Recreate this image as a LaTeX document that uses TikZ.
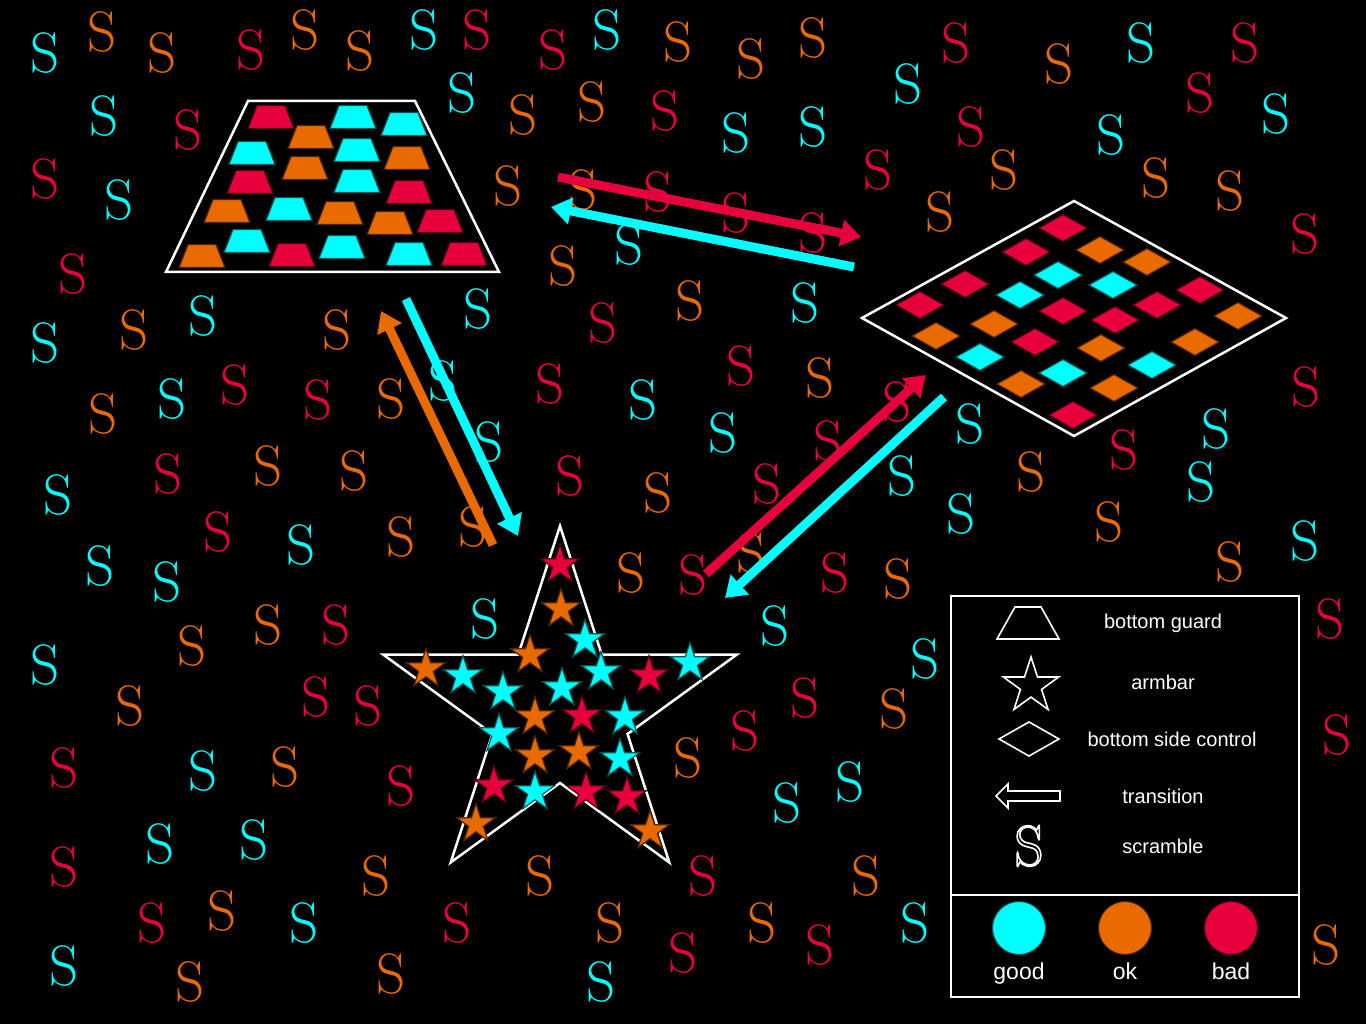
\documentclass[tikz,border=0pt]{standalone}
\usepackage{fontspec}
\newfontfamily\lsans{Liberation Sans}
\usetikzlibrary{arrows.meta}
\definecolor{cy}{RGB}{0,255,255}
\definecolor{og}{RGB}{232,106,0}
\definecolor{rd}{RGB}{232,0,60}
\begin{document}
\begin{tikzpicture}[x=1pt,y=-1pt,
  sS/.style={font=\fontsize{57}{60}\selectfont, inner sep=0pt},
  lg/.style={font=\lsans\fontsize{20}{24}\selectfont, text=white, inner sep=0pt, anchor=base},
  lc/.style={font=\lsans\fontsize{23}{27}\selectfont, text=white, inner sep=0pt, anchor=base},
  bigshape/.style={draw=white, line width=2.5pt, fill=black, line join=miter},
  legshape/.style={draw=white, line width=1.6pt},
  arr/.style={line width=9pt, -{Triangle[length=20pt,width=26pt]}},
  trapz/.pic={\path[pic actions] (-14,-11.5) -- (14,-11.5) -- (23,11.5) -- (-23,11.5) -- cycle;},
  dia/.pic={\path[pic actions] (-24,0) -- (0,-13.5) -- (24,0) -- (0,13.5) -- cycle;},
  stary/.pic={\path[pic actions] (270:20.5)--(306:7.8)--(342:20.5)--(18:7.8)--(54:20.5)--(90:7.8)--(126:20.5)--(162:7.8)--(198:20.5)--(234:7.8)--cycle;}
]
\fill[black] (0,0) rectangle (1366,1024);
\useasboundingbox (0,0) rectangle (1366,1024);

% scattered scramble letters
\foreach \x/\y/\c [count=\i] in {
45/53/cy,102/32/og,162/53/og,251/50/rd,305/30/og,104/116/cy,188/130/rd,45/179/rd,119/200/cy,73/274/rd,
45/343/cy,134/330/og,203/316/cy,337/330/og,360/51/og,424/30/cy,477/30/rd,553/50/rd,607/30/cy,678/42/og,
462/93/cy,523/115/og,592/102/og,665/111/rd,508/186/og,583/190/og,658/192/rd,629/245/cy,563/266/og,478/309/cy,
603/323/rd,690/301/og,751/59/og,813/38/og,956/43/rd,908/84/cy,736/133/cy,813/127/cy,971/127/rd,878/170/rd,
1004/170/og,940/212/og,736/213/rd,813/233/rd,805/303/cy,1059/64/og,1141/43/cy,1245/43/rd,1200/93/rd,1276/114/cy,
1111/135/cy,1156/178/og,1230/191/og,1305/234/rd,172/399/cy,235/385/rd,318/400/rd,103/414/og,168/474/rd,268/466/og,
58/495/cy,218/532/rd,301/545/cy,100/566/cy,167/582/cy,268/625/og,336/625/rd,192/646/og,45/665/cy,316/697/rd,
391/399/og,443/381/cy,550/384/rd,643/400/cy,489/442/cy,354/471/og,570/476/rd,658/493/og,401/537/og,473/527/og,
631/573/og,693/575/rd,485/619/cy,741/366/rd,820/378/og,897/402/rd,723/433/cy,828/441/rd,970/424/cy,902/476/cy,
767/484/rd,961/514/cy,751/553/og,835/573/rd,898/579/og,775/626/cy,925/659/cy,1031/472/og,1306/387/rd,1216/429/cy,
1124/450/rd,1201/482/cy,1109/522/og,1230/562/og,1305/541/cy,1330/619/rd,130/706/og,64/768/rd,203/771/cy,285/767/og,
160/844/cy,254/840/cy,64/867/rd,152/923/rd,222/911/og,304/923/cy,64/966/cy,190/982/og,368/706/rd,401/786/rd,
376/876/og,540/876/og,457/923/rd,610/923/og,391/974/og,601/982/cy,688/758/og,683/953/rd,805/698/rd,894/709/og,
745/731/rd,850/782/cy,787/803/cy,703/876/rd,866/876/og,762/923/og,820/945/rd,915/923/cy,1337/735/rd,1326/945/og}
  \node[sS, text=\c] (s\i) at (\x,\y) {S};

% bottom guard
\draw[bigshape] (248,101) -- (415,101) -- (499,272) -- (166,272) -- cycle;
\foreach \x/\y/\c in {271/117/rd,311/137/og,353/117/cy,404/124/cy,252/153/cy,305/168/og,357/150/cy,407/158/og,
250/182/rd,357/181/cy,409/192/rd,227/211/og,289/209/cy,340/213/og,390/223/og,440/221/rd,
247/241/cy,342/247/cy,409/254/cy,202/256/og,292/255/rd,464/254/rd}
  \pic[fill=\c, draw=\c!35!black, line width=1.2pt] at (\x,\y) {trapz};

% bottom side control
\draw[bigshape] (862,318) -- (1074,201) -- (1286,318) -- (1074,436) -- cycle;
\foreach \x/\y/\c in {1063/228/rd,1026/252/rd,1100/250/og,1147/262/og,965/284/rd,1058/275/cy,1113/285/cy,1200/290/rd,
920/305/rd,1020/295/cy,1063/311/rd,1115/320/rd,1157/305/rd,1238/316/og,936/336/og,994/324/og,1035/342/rd,1101/348/og,
1195/342/og,980/357/cy,1063/373/cy,1152/365/cy,1021/384/og,1114/388/og,1073/415/rd}
  \pic[fill=\c, draw=\c!35!black, line width=1.2pt] at (\x,\y) {dia};

% armbar
\draw[bigshape, shift={(560,712)}] (270:186)--(306:71)--(342:186)--(18:71)--(54:186)--(90:71)--(126:186)--(162:71)--(198:186)--(234:71)--cycle;
\foreach \x/\y/\c in {560/565/rd,561/609/og,585/640/cy,530/655/og,690/663/cy,426/669/og,463/676/cy,503/692/cy,562/688/cy,
601/672/cy,649/676/rd,535/717/og,582/716/rd,625/717/cy,499/734/cy,535/756/og,579/752/og,620/759/cy,494/786/rd,
535/792/cy,586/792/rd,627/797/rd,476/824/og,650/831/og}
  \pic[fill=\c, draw=\c!35!black, line width=1.2pt] at (\x,\y) {stary};

% transitions
\coordinate (a1s) at (558,177); \coordinate (a1e) at (861,237);
\coordinate (a2s) at (854,267); \coordinate (a2e) at (551,207);
\coordinate (a3s) at (493,545); \coordinate (a3e) at (381,311);
\coordinate (a4s) at (406,299); \coordinate (a4e) at (518,536);
\coordinate (a5s) at (706,574); \coordinate (a5e) at (926,375);
\coordinate (a6s) at (944,397); \coordinate (a6e) at (725,598);
\draw[arr, rd] (a1s) -- (a1e);
\draw[arr, cy] (a2s) -- (a2e);
\draw[arr, og] (a3s) -- (a3e);
\draw[arr, cy] (a4s) -- (a4e);
\draw[arr, rd] (a5s) -- (a5e);
\draw[arr, cy] (a6s) -- (a6e);

% legend
\draw[white, line width=2pt, fill=black] (951,596) rectangle (1299,997);
\draw[white, line width=2pt] (951,895) -- (1299,895);
\draw[legshape] (1015,607) -- (1041,607) -- (1059,639) -- (997,639) -- cycle;
\node[lg] (t1) at (1163,628) {bottom guard};
\draw[legshape, shift={(1031,686)}] (270:29)--(306:11.1)--(342:29)--(18:11.1)--(54:29)--(90:11.1)--(126:29)--(162:11.1)--(198:29)--(234:11.1)--cycle;
\node[lg] (t2) at (1163,689) {armbar};
\draw[legshape] (999,739) -- (1029,722) -- (1059,739) -- (1029,756) -- cycle;
\node[lg] (t3) at (1172,746) {bottom side control};
\draw[legshape] (996,796) -- (1008,784) -- (1008,791) -- (1060,791) -- (1060,801) -- (1008,801) -- (1008,808) -- cycle;
\node[lg] (t4) at (1163,803) {transition};
\node[sS, text=white] (legS) at (1029,846) {\special{pdf:literal direct q 1 Tr 1.6 w 1 1 1 RG}S\special{pdf:literal direct Q}};
\node[lg] (t5) at (1163,853) {scramble};

\node[circle, fill=cy, draw=cy!35!black, line width=1pt, minimum size=53pt, inner sep=0pt] (cgood) at (1019,928) {};
\node[circle, fill=og, draw=og!35!black, line width=1pt, minimum size=53pt, inner sep=0pt] (cok) at (1125,928) {};
\node[circle, fill=rd, draw=rd!35!black, line width=1pt, minimum size=53pt, inner sep=0pt] (cbad) at (1231,928) {};
\node[lc] (lgood) at (1019,979) {good};
\node[lc] (lok) at (1125,979) {ok};
\node[lc] (lbad) at (1231,979) {bad};
\end{tikzpicture}
\end{document}
